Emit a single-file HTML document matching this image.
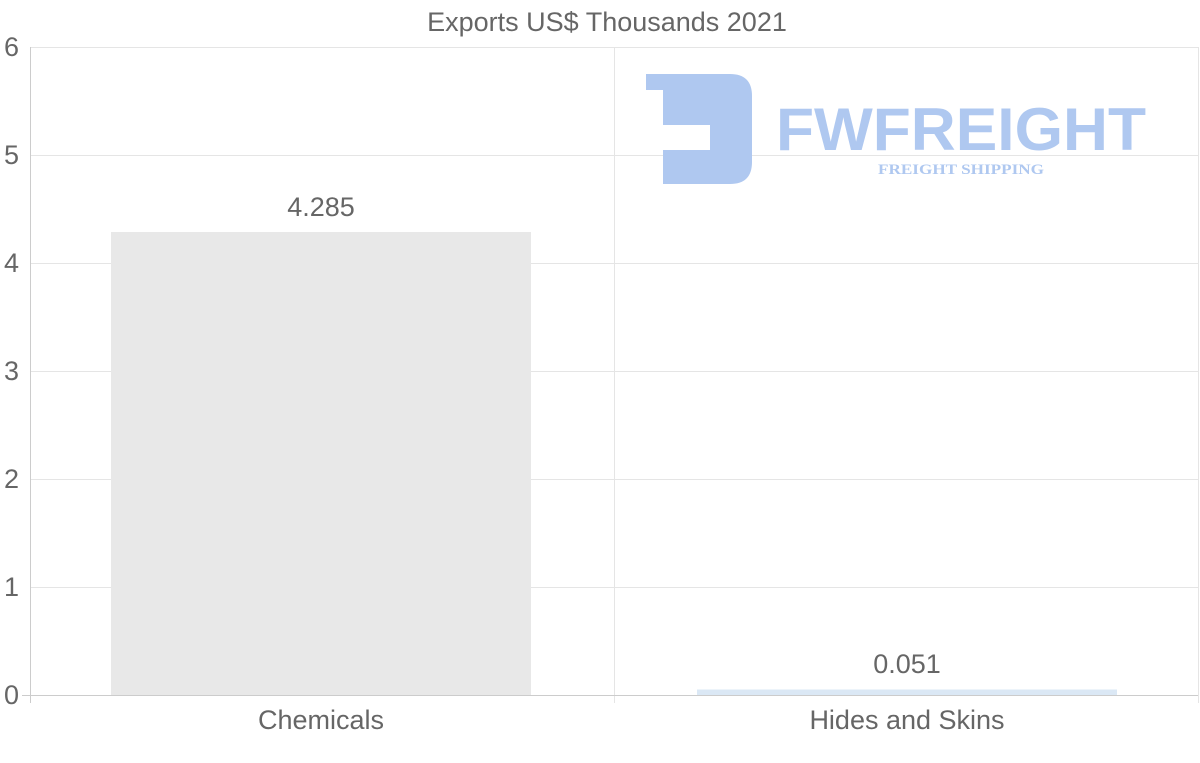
<!DOCTYPE html>
<html><head><meta charset="utf-8"><style>
html,body{margin:0;padding:0;background:#fff;}
svg{display:block;font-family:"Liberation Sans",sans-serif;}
</style></head><body>
<svg width="1200" height="763" viewBox="0 0 1200 763">
<text x="607" y="31" text-anchor="middle" font-size="27" fill="#666">Exports US$ Thousands 2021</text>
<g stroke="#e5e5e5" stroke-width="1">
<line x1="30" y1="47.5" x2="1198" y2="47.5"/>
<line x1="30" y1="155.5" x2="1198" y2="155.5"/>
<line x1="30" y1="263.5" x2="1198" y2="263.5"/>
<line x1="30" y1="371.5" x2="1198" y2="371.5"/>
<line x1="30" y1="479.5" x2="1198" y2="479.5"/>
<line x1="30" y1="587.5" x2="1198" y2="587.5"/>
<line x1="614.5" y1="47" x2="614.5" y2="703"/>
<line x1="1198.5" y1="47" x2="1198.5" y2="703"/>
</g>
<line x1="30.5" y1="47" x2="30.5" y2="703" stroke="#ccc"/>
<line x1="22" y1="695.5" x2="1198" y2="695.5" stroke="#ccc"/>
<g font-size="27" fill="#666" text-anchor="end">
<text x="19" y="56">6</text><text x="19" y="164">5</text><text x="19" y="272">4</text>
<text x="19" y="380">3</text><text x="19" y="488">2</text><text x="19" y="596">1</text><text x="19" y="704">0</text>
</g>
<rect x="111" y="232" width="420" height="463" fill="#e8e8e8"/>
<rect x="697" y="689.5" width="420" height="5.5" fill="#dbe8f5"/>
<g font-size="27" fill="#666" text-anchor="middle">
<text x="321" y="216">4.285</text>
<text x="907" y="673">0.051</text>
<text x="321" y="729">Chemicals</text>
<text x="907" y="729">Hides and Skins</text>
</g>
<g fill="#afc8f0">
<path d="M646 74 H730 Q752 74 752 96 V162 Q752 184 730 184 H663 V150 H710 V125 H663 V90 H646 Z"/>
<text x="776" y="150" font-size="60" font-weight="bold" textLength="370" lengthAdjust="spacingAndGlyphs">FWFREIGHT</text>
<text x="878" y="174" font-size="15" font-weight="bold" font-family="Liberation Serif,serif" textLength="166" lengthAdjust="spacingAndGlyphs">FREIGHT SHIPPING</text>
</g>
</svg>
</body></html>
